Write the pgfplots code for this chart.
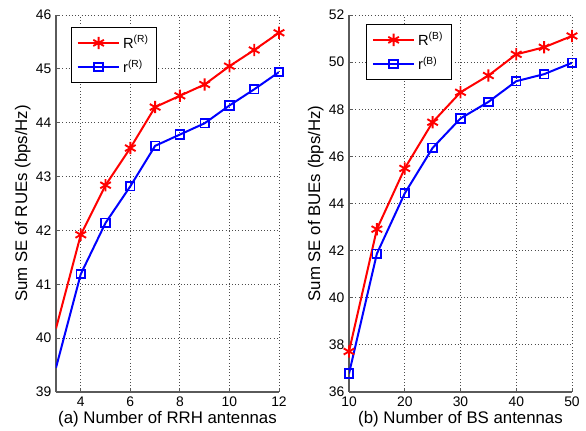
\documentclass[border=0pt]{standalone}
\usepackage{pgfplots}
\pgfplotsset{compat=1.18}
\usepackage{fontspec}
\setmainfont{Liberation Sans}

\definecolor{mred}{RGB}{255,0,0}
\definecolor{mblue}{RGB}{0,0,255}
\definecolor{axgray}{RGB}{90,90,90}

\pgfplotsset{
  seplot/.style={
    scale only axis,
    width=167.25pt, height=282.75pt,
    axis x line*=bottom, axis y line*=left,
    axis line style={axgray, line width=0.9pt, -},
    tick style={axgray, line width=0.6pt},
    tick align=inside,
    major tick length=3pt,
    grid=major,
    major grid style={black!70, dotted, line width=0.6pt},
    /pgf/number format/assume math mode=true,
    ticklabel style={font=\fontsize{10.4}{12}\selectfont},
    label style={font=\fontsize{12.6}{15}\selectfont},
    xlabel style={yshift=3pt},
    ylabel style={yshift=-3pt},
    legend style={draw=black, line width=0.7pt, fill=white,
      font=\fontsize{11}{13}\selectfont, anchor=north west,
      inner xsep=4pt, inner ysep=4pt, row sep=3pt,
      /tikz/every even column/.append style={column sep=2pt}},
    legend cell align=left,
    legend image code/.code={
      \draw[mark repeat=2, mark phase=2] plot coordinates {(0cm,0cm) (0.55cm,0cm) (1.1cm,0cm)};
    },
  },
  rser/.style={mred, line width=1.5pt, mark=asterisk,
    mark size=4.6pt, mark options={line width=1.4pt}},
  bser/.style={mblue, line width=1.5pt, mark=square,
    mark size=3.2pt, mark options={line width=1.3pt, fill=white}},
}

\begin{document}
\begin{tikzpicture}
% (a) RRH antennas
\begin{axis}[seplot, at={(0pt,0pt)},
  xmin=3, xmax=12, ymin=39, ymax=46,
  xtick={4,6,8,10,12}, ytick={39,40,...,46},
  xlabel={(a) Number of RRH antennas},
  ylabel={Sum SE of RUEs (bps/Hz)},
  legend style={at={(0.067,0.968)}}]
\addplot[rser, mark phase=2] coordinates {
  (3,40.18) (4,41.92) (5,42.84) (6,43.53) (7,44.29) (8,44.50)
  (9,44.71) (10,45.05) (11,45.35) (12,45.67)};
\addlegendentry{R\textsuperscript{(R)}}
\addplot[bser, mark phase=2] coordinates {
  (3,39.45) (4,41.19) (5,42.14) (6,42.82) (7,43.57) (8,43.78)
  (9,43.99) (10,44.32) (11,44.62) (12,44.94)};
\addlegendentry{r\textsuperscript{(R)}}
\end{axis}
% (b) BS antennas
\begin{axis}[seplot, at={(219.75pt,0pt)},
  xmin=10, xmax=50, ymin=36, ymax=52,
  xtick={10,20,30,40,50}, ytick={36,38,...,52},
  xlabel={(b) Number of BS antennas},
  ylabel={Sum SE of BUEs (bps/Hz)},
  legend style={at={(0.076,0.976)}}]
\addplot[rser] coordinates {
  (10,37.72) (15,42.91) (20,45.49) (25,47.45) (30,48.72) (35,49.43)
  (40,50.33) (45,50.63) (50,51.11)};
\addlegendentry{R\textsuperscript{(B)}}
\addplot[bser] coordinates {
  (10,36.78) (15,41.87) (20,44.43) (25,46.36) (30,47.61) (35,48.31)
  (40,49.19) (45,49.49) (50,49.97)};
\addlegendentry{r\textsuperscript{(B)}}
\end{axis}
\pgfresetboundingbox
\path (-42pt,-29.25pt) rectangle (397.5pt,294pt);
\end{tikzpicture}
\end{document}
